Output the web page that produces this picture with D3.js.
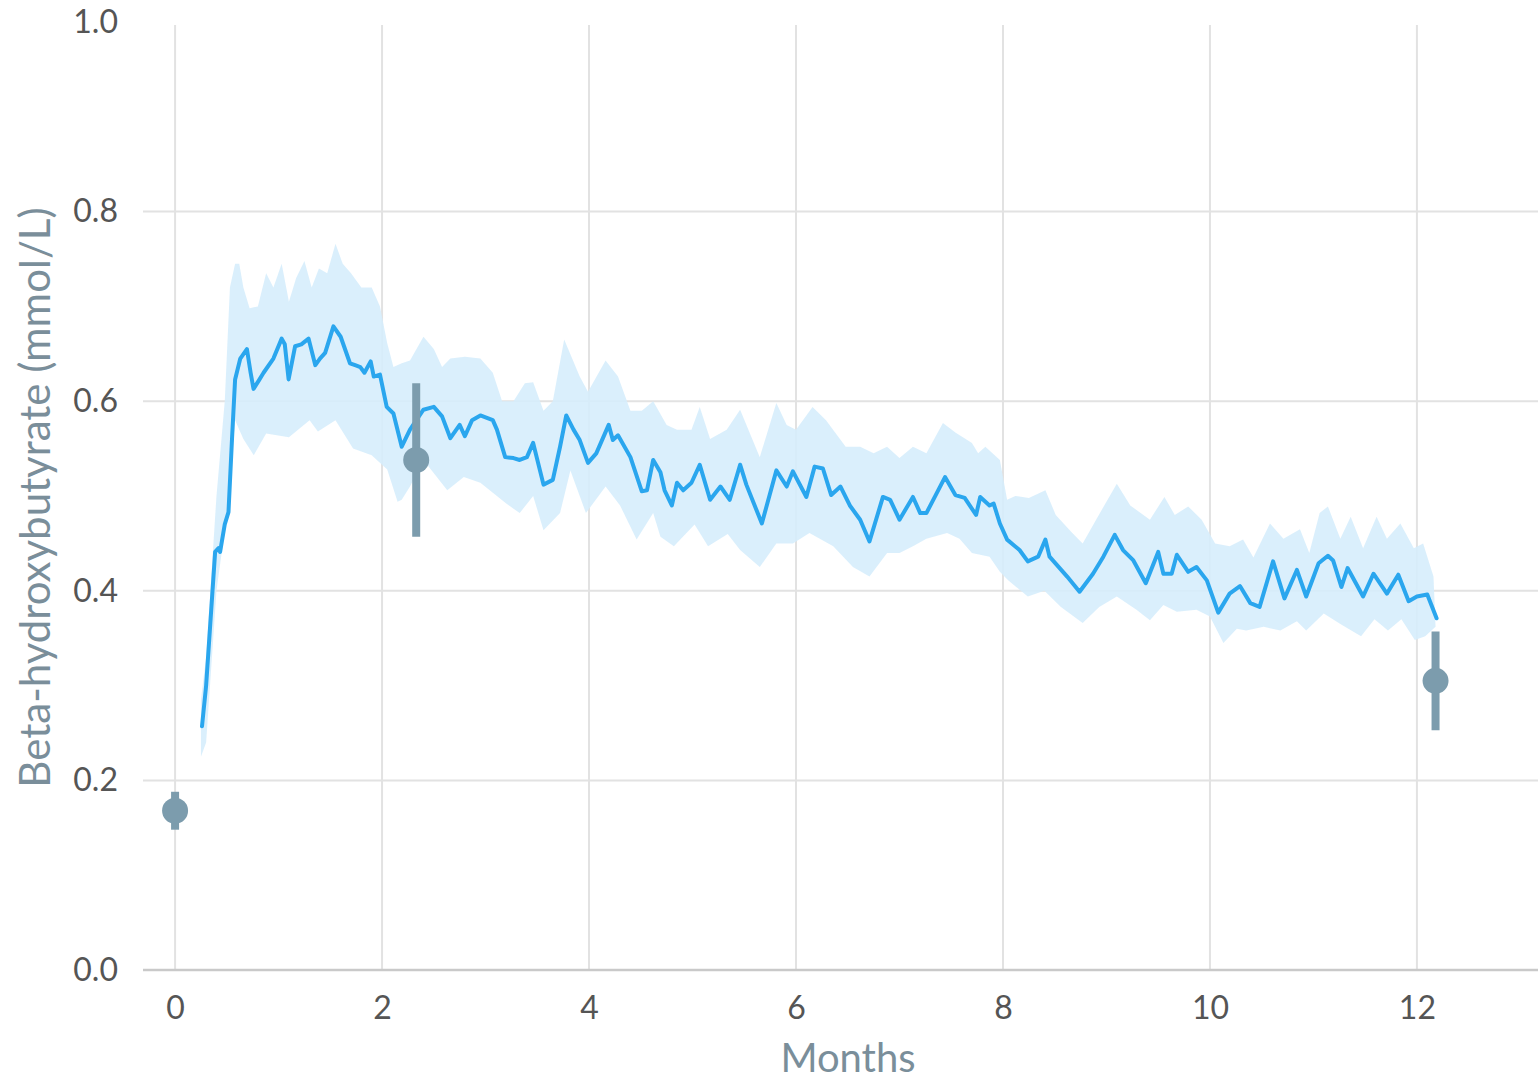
<!DOCTYPE html>
<html><head><meta charset="utf-8">
<script src="https://cdn.jsdelivr.net/npm/d3@7"></script>
<style>
html,body{margin:0;padding:0;background:#fff;}
svg{display:block;}
</style></head>
<body>
<svg id="chart" width="1538" height="1081"></svg>
<script>
// ---- data ----
const xTicks = [0, 2, 4, 6, 8, 10, 12];
const yTicks = [0.0, 0.2, 0.4, 0.6, 0.8, 1.0];
const xTitle = "Months";
const yTitle = "Beta-hydroxybutyrate (mmol/L)";

const meanMonths = [0.26,0.30,0.387,0.42,0.435,0.48,0.516,0.55,0.58,0.63,0.694,0.73,0.758,0.81,0.855,0.95,1.03,1.06,1.097,1.16,1.22,1.29,1.355,1.40,1.45,1.53,1.60,1.69,1.74,1.79,1.83,1.89,1.92,1.98,2.045,2.11,2.19,2.27,2.40,2.50,2.58,2.66,2.75,2.80,2.87,2.95,3.07,3.11,3.19,3.27,3.33,3.40,3.46,3.56,3.65,3.72,3.78,3.85,3.91,3.99,4.07,4.19,4.23,4.28,4.40,4.51,4.56,4.62,4.69,4.73,4.80,4.85,4.91,4.99,5.07,5.17,5.27,5.36,5.46,5.52,5.67,5.81,5.91,5.97,6.10,6.18,6.26,6.34,6.43,6.52,6.62,6.71,6.84,6.91,7.00,7.13,7.20,7.26,7.36,7.44,7.54,7.63,7.74,7.78,7.87,7.91,7.97,8.04,8.16,8.24,8.34,8.41,8.45,8.62,8.74,8.87,8.97,9.08,9.16,9.26,9.38,9.50,9.55,9.63,9.68,9.79,9.87,9.97,10.08,10.19,10.29,10.39,10.48,10.61,10.72,10.84,10.93,11.05,11.14,11.19,11.27,11.33,11.48,11.58,11.71,11.82,11.92,12.00,12.10,12.19];
const meanValues = [0.257,0.30,0.441,0.445,0.441,0.47,0.483,0.56,0.623,0.645,0.655,0.63,0.613,0.622,0.63,0.645,0.666,0.66,0.623,0.658,0.66,0.666,0.638,0.645,0.651,0.679,0.668,0.64,0.638,0.636,0.63,0.642,0.626,0.628,0.594,0.587,0.552,0.57,0.591,0.594,0.584,0.561,0.575,0.563,0.58,0.585,0.58,0.57,0.541,0.54,0.538,0.541,0.556,0.512,0.517,0.552,0.585,0.57,0.559,0.535,0.545,0.575,0.559,0.564,0.541,0.505,0.506,0.538,0.525,0.506,0.49,0.514,0.506,0.514,0.533,0.496,0.51,0.496,0.533,0.512,0.471,0.527,0.51,0.526,0.499,0.531,0.529,0.501,0.51,0.49,0.475,0.452,0.499,0.496,0.475,0.499,0.482,0.482,0.503,0.52,0.501,0.498,0.48,0.499,0.49,0.492,0.471,0.454,0.443,0.431,0.436,0.454,0.436,0.415,0.399,0.418,0.436,0.459,0.443,0.432,0.408,0.441,0.418,0.418,0.438,0.42,0.425,0.411,0.377,0.397,0.405,0.387,0.383,0.431,0.392,0.422,0.394,0.429,0.437,0.432,0.404,0.424,0.394,0.418,0.397,0.417,0.389,0.394,0.396,0.371];

const upperMonths = [0.25,0.30,0.40,0.48,0.53,0.58,0.62,0.66,0.72,0.80,0.88,0.95,1.03,1.10,1.17,1.25,1.32,1.39,1.47,1.55,1.62,1.70,1.80,1.90,1.98,2.05,2.11,2.19,2.27,2.40,2.50,2.58,2.66,2.80,2.95,3.07,3.16,3.27,3.38,3.46,3.56,3.65,3.76,3.91,3.99,4.16,4.28,4.40,4.51,4.62,4.75,4.85,4.99,5.07,5.17,5.33,5.46,5.65,5.81,5.91,6.00,6.16,6.29,6.48,6.62,6.75,6.88,7.00,7.13,7.26,7.42,7.54,7.70,7.76,7.83,7.97,8.04,8.12,8.25,8.41,8.51,8.67,8.77,8.90,9.10,9.23,9.42,9.56,9.66,9.79,9.92,10.05,10.19,10.32,10.42,10.58,10.71,10.87,10.96,11.06,11.14,11.26,11.36,11.48,11.61,11.71,11.84,11.97,12.06,12.16];
const upperValues = [0.285,0.33,0.50,0.60,0.72,0.745,0.745,0.72,0.698,0.70,0.735,0.72,0.745,0.705,0.73,0.748,0.72,0.74,0.735,0.766,0.745,0.735,0.72,0.72,0.70,0.661,0.636,0.64,0.643,0.668,0.655,0.636,0.645,0.647,0.645,0.63,0.60,0.60,0.619,0.62,0.59,0.60,0.665,0.626,0.61,0.643,0.626,0.59,0.59,0.60,0.575,0.57,0.57,0.594,0.56,0.57,0.591,0.541,0.598,0.575,0.57,0.594,0.58,0.552,0.552,0.545,0.552,0.54,0.552,0.545,0.577,0.567,0.556,0.545,0.552,0.538,0.496,0.50,0.498,0.506,0.48,0.461,0.45,0.475,0.513,0.49,0.475,0.499,0.48,0.489,0.475,0.45,0.447,0.454,0.435,0.471,0.455,0.465,0.44,0.482,0.489,0.455,0.478,0.445,0.478,0.455,0.471,0.445,0.45,0.415];

const lowerMonths = [0.25,0.30,0.40,0.50,0.58,0.66,0.76,0.88,1.10,1.30,1.38,1.55,1.72,1.90,2.05,2.15,2.19,2.27,2.40,2.63,2.79,2.95,3.20,3.33,3.46,3.56,3.72,3.82,3.97,4.16,4.30,4.46,4.62,4.69,4.82,5.02,5.15,5.34,5.46,5.65,5.81,5.97,6.13,6.36,6.55,6.71,6.88,7.00,7.13,7.26,7.46,7.58,7.70,7.87,7.97,8.05,8.24,8.40,8.56,8.77,8.93,9.10,9.29,9.42,9.55,9.68,9.87,10.00,10.13,10.26,10.35,10.52,10.68,10.84,10.93,11.10,11.26,11.46,11.59,11.72,11.85,11.98,12.08,12.18];
const lowerValues = [0.225,0.24,0.40,0.48,0.58,0.56,0.543,0.566,0.562,0.58,0.568,0.58,0.55,0.543,0.528,0.494,0.496,0.51,0.538,0.506,0.52,0.514,0.492,0.482,0.50,0.464,0.482,0.527,0.482,0.51,0.49,0.454,0.482,0.457,0.447,0.47,0.447,0.46,0.443,0.425,0.45,0.45,0.461,0.447,0.425,0.415,0.44,0.44,0.447,0.455,0.461,0.455,0.44,0.436,0.42,0.411,0.394,0.40,0.383,0.366,0.383,0.394,0.38,0.369,0.385,0.378,0.38,0.373,0.345,0.36,0.358,0.362,0.358,0.368,0.358,0.376,0.365,0.352,0.37,0.358,0.37,0.348,0.352,0.362];

const pointMonths = [0, 2.33, 12.18];
const pointValues = [0.168, 0.538, 0.305];
const pointLow = [0.148, 0.457, 0.253];
const pointHigh = [0.188, 0.619, 0.357];

// ---- layout ----
const svg = d3.select("#chart");
const x = d3.scaleLinear().domain([-0.31, 13.17]).range([143, 1538]);
const y = d3.scaleLinear().domain([0, 1]).range([970, 22]);
const FONT = "'Source Sans Pro', Lato, 'Open Sans', sans-serif";

// gridlines
svg.append("g").selectAll("line").data(xTicks).join("line")
  .attr("x1", d => x(d)).attr("x2", d => x(d))
  .attr("y1", y(1) + 3).attr("y2", y(0))
  .attr("stroke", "#e2e2e2").attr("stroke-width", 2);
svg.append("g").selectAll("line").data(yTicks.filter(v => v > 0 && v < 1)).join("line")
  .attr("x1", x.range()[0]).attr("x2", x.range()[1])
  .attr("y1", d => y(d)).attr("y2", d => y(d))
  .attr("stroke", "#e2e2e2").attr("stroke-width", 2);
svg.append("line")
  .attr("x1", x.range()[0]).attr("x2", x.range()[1])
  .attr("y1", y(0)).attr("y2", y(0))
  .attr("stroke", "#c9c9c9").attr("stroke-width", 2.5);

// axes (labels only)
const yAxis = svg.append("g").attr("transform", `translate(${x.range()[0]},0)`)
  .call(d3.axisLeft(y).tickValues(yTicks).tickFormat(d3.format(".1f")).tickSize(0).tickPadding(25));
const xAxis = svg.append("g").attr("transform", `translate(0,${y(0)})`)
  .call(d3.axisBottom(x).tickValues(xTicks).tickFormat(d3.format("d")).tickSize(0).tickPadding(26));
[yAxis, xAxis].forEach(g => {
  g.select(".domain").remove();
  g.selectAll("text").attr("font-family", FONT).attr("font-size", 32).attr("fill", "#555");
});

// band
const bandPts = upperMonths.map((m, i) => [m, upperValues[i]])
  .concat(lowerMonths.map((m, i) => [m, lowerValues[i]]).reverse());
const polyLine = d3.line().x(d => x(d[0])).y(d => y(d[1]));
svg.append("path").attr("d", polyLine(bandPts) + "Z")
  .attr("fill", "#d6edfc").attr("fill-opacity", 0.9).attr("stroke", "none");

// mean line
const meanPts = meanMonths.map((m, i) => [m, meanValues[i]]);
svg.append("path").attr("d", polyLine(meanPts))
  .attr("fill", "none").attr("stroke", "#2aa6ee").attr("stroke-width", 4)
  .attr("stroke-linejoin", "round").attr("stroke-linecap", "round");

// points with error bars
const pts = pointMonths.map((m, i) => ({m, v: pointValues[i], lo: pointLow[i], hi: pointHigh[i]}));
const pg = svg.append("g");
pg.selectAll("line").data(pts).join("line")
  .attr("x1", d => x(d.m)).attr("x2", d => x(d.m))
  .attr("y1", d => y(d.lo)).attr("y2", d => y(d.hi))
  .attr("stroke", "#7c9cad").attr("stroke-width", 8);
pg.selectAll("circle").data(pts).join("circle")
  .attr("cx", d => x(d.m)).attr("cy", d => y(d.v)).attr("r", 13)
  .attr("fill", "#7c9cad");

// titles
svg.append("text").text(xTitle)
  .attr("x", 848).attr("y", 1072).attr("text-anchor", "middle")
  .attr("font-family", FONT).attr("font-size", 40).attr("fill", "#7a8e9a");
svg.append("text").text(yTitle)
  .attr("transform", `translate(50,${(205 + 790) / 2}) rotate(-90)`)
  .attr("text-anchor", "middle")
  .attr("font-family", FONT).attr("font-size", 42).attr("fill", "#7a8e9a");
</script>
</body></html>
